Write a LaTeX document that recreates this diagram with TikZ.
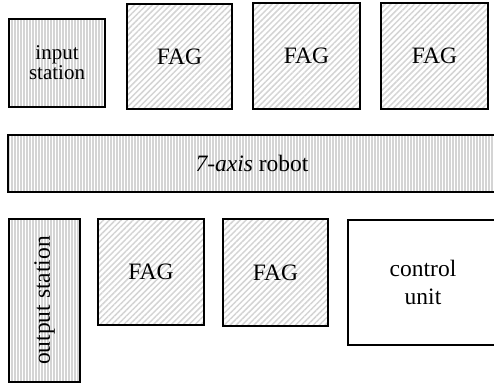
\documentclass[tikz,border=0pt]{standalone}
\usepackage{fontspec}
\setmainfont{Liberation Serif}
\usetikzlibrary{patterns.meta}
\tikzset{
  box/.style={draw=black, line width=1.7pt, rectangle, inner sep=0pt, align=center, font=\fontsize{23.5}{28}\selectfont},
  vstripe/.style={box, pattern={Lines[angle=90,distance=3pt,line width=1.3pt]}, pattern color=black!17},
  dstripe/.style={box, pattern={Lines[angle=45,distance=4.2pt,line width=1.5pt]}, pattern color=black!17},
}
\begin{document}
\begin{tikzpicture}[x=1pt,y=-1pt]
\useasboundingbox (0,0) rectangle (494,383);
\clip (0,0) rectangle (494,383);
\node[vstripe, minimum width=96pt, minimum height=88pt, font=\fontsize{21}{20}\selectfont] (input) at (57,63) {input\\station};
\node[dstripe, minimum width=105pt, minimum height=105pt] (fag1) at (179.5,56.5) {FAG};
\node[dstripe, minimum width=107pt, minimum height=106pt] (fag2) at (306.5,56) {FAG};
\node[dstripe, minimum width=107pt, minimum height=106pt] (fag3) at (434.5,56) {FAG};
\node[vstripe, minimum width=488pt, minimum height=57pt] (robot) at (252,163.5) {\textit{7-axis} robot};
\node[vstripe, minimum width=71pt, minimum height=163pt] (output) at (44.5,300.5) {};
\node[rotate=90, font=\fontsize{23.5}{28}\selectfont, inner sep=0pt] (outputlabel) at (output.center) {output station};
\node[dstripe, minimum width=106pt, minimum height=106pt] (fag4) at (151,272) {FAG};
\node[dstripe, minimum width=105pt, minimum height=107pt] (fag5) at (275.5,272.5) {FAG};
\node[box, fill=white, minimum width=150pt, minimum height=125pt] (control) at (423,282.5) {control\\unit};
\end{tikzpicture}
\end{document}
